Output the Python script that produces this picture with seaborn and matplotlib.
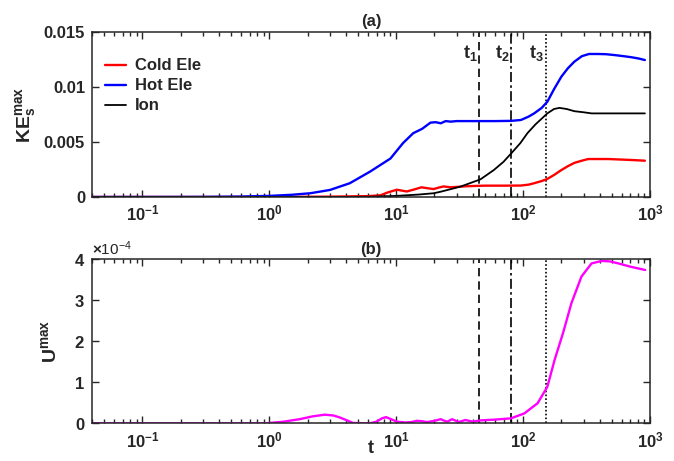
import numpy as np
import pandas as pd
import matplotlib
matplotlib.use("Agg")
import matplotlib.pyplot as plt
import matplotlib.ticker as mticker
import seaborn as sns

# ---- data -------------------------------------------------------------
t_cold = [0.04, 1, 3, 6, 7.5, 8.5, 10.1, 12.1, 14, 15.8, 18, 19.7, 21.5, 23.6, 26.8,
          30.3, 35, 40.9, 50, 70, 96, 110, 122, 140, 155, 175, 200, 225, 253, 290,
          325, 400, 470, 600, 750, 910]
ke_cold = [0, 0, 0.00003, 0.00008, 0.00015, 0.0004, 0.00066, 0.0005, 0.0007, 0.00088,
           0.00078, 0.00072, 0.00085, 0.00096, 0.00088, 0.00092, 0.00097, 0.001, 0.00103,
           0.00103, 0.00104, 0.00112, 0.00125, 0.00145, 0.00164, 0.002, 0.00245, 0.0028,
           0.0031, 0.0033, 0.00345, 0.00345, 0.00345, 0.0034, 0.00335, 0.0033]

t_hot = [0.04, 0.3, 0.6, 1.0, 1.5, 2.1, 3.0, 4.3, 6.2, 9.0, 11.3, 13.6, 16, 18.6, 20.5,
         22.4, 24.5, 26.8, 30, 40, 60, 80, 96, 110, 122, 140, 155, 175, 200, 225, 253,
         290, 330, 390, 450, 527, 620, 718, 820, 910]
ke_hot = [0, 0.00001, 0.00004, 0.0001, 0.0002, 0.00034, 0.00064, 0.00125, 0.0023, 0.0035,
          0.0049, 0.0058, 0.0062, 0.00676, 0.0068, 0.0067, 0.0069, 0.00685, 0.0069, 0.0069,
          0.0069, 0.00692, 0.0070, 0.0073, 0.0076, 0.0081, 0.00866, 0.0098, 0.01094, 0.0117,
          0.0123, 0.0128, 0.0130, 0.0130, 0.01298, 0.0129, 0.0128, 0.0127, 0.01258, 0.01245]

t_ion = [0.04, 1, 3, 6, 10, 15, 19.7, 22.4, 32, 46, 58.7, 70, 81, 95, 108, 125, 155, 175,
         193, 220, 253, 300, 346, 450, 600, 910]
ke_ion = [0, 0, 0, 0.00002, 0.0001, 0.00022, 0.00034, 0.00048, 0.00094, 0.0016, 0.00245,
          0.0032, 0.0040, 0.0049, 0.0058, 0.0066, 0.0076, 0.0080, 0.0081, 0.0080, 0.0078,
          0.0077, 0.0076, 0.0076, 0.0076, 0.0076]

t_u = [0.04, 0.5, 0.94, 1.3, 1.73, 2.2, 2.73, 3.2, 3.6, 4.1, 4.55, 5.5, 6.3, 7.0, 7.7, 8.3,
       9.1, 10.1, 11.8, 13.2, 14.5, 16, 17.5, 20, 22.4, 24, 25.2, 27.6, 31, 35, 40, 46, 60,
       80, 102, 130, 155, 177, 206, 240, 288, 346, 415, 480, 563, 700, 915]
u_max = [0, 0, 0, 0.04e-4, 0.10e-4, 0.17e-4, 0.21e-4, 0.19e-4, 0.14e-4, 0.07e-4, 0.01e-4,
         0, 0.005e-4, 0.04e-4, 0.12e-4, 0.15e-4, 0.10e-4, 0.04e-4, 0.02e-4, 0.03e-4,
         0.06e-4, 0.05e-4, 0.03e-4, 0.06e-4, 0.10e-4, 0.06e-4, 0.04e-4, 0.10e-4, 0.03e-4,
         0.08e-4, 0.04e-4, 0.07e-4, 0.09e-4, 0.12e-4, 0.24e-4, 0.49e-4, 0.89e-4, 1.55e-4,
         2.20e-4, 2.93e-4, 3.58e-4, 3.90e-4, 3.96e-4, 3.95e-4, 3.90e-4, 3.82e-4, 3.74e-4]

marker_times = [45, 80, 150]
marker_labels = ["$t_1$", "$t_2$", "$t_3$"]
marker_styles = [(0, (5, 3)), (0, (6, 2, 1.5, 2)), (0, (1, 1.3))]

# ---- style ------------------------------------------------------------
sns.set_style("ticks")
plt.rcParams["font.family"] = ["Liberation Sans", "DejaVu Sans"]
plt.rcParams["font.weight"] = "bold"
plt.rcParams["axes.labelweight"] = "bold"
plt.rcParams["axes.titleweight"] = "bold"
plt.rcParams["mathtext.fontset"] = "custom"
plt.rcParams["mathtext.rm"] = "Liberation Sans:bold"
plt.rcParams["mathtext.it"] = "Liberation Sans:bold"
plt.rcParams["mathtext.bf"] = "Liberation Sans:bold"
plt.rcParams["mathtext.default"] = "rm"

fig = plt.figure(figsize=(6.74, 4.61), dpi=100)
ax1 = fig.add_axes([0.1365, 0.5727, 0.828, 0.3579])
ax2 = fig.add_axes([0.1365, 0.0818, 0.828, 0.3557])

cold = pd.DataFrame({"t": t_cold, "v": ke_cold})
hot = pd.DataFrame({"t": t_hot, "v": ke_hot})
ion = pd.DataFrame({"t": t_ion, "v": ke_ion})
pot = pd.DataFrame({"t": t_u, "v": u_max})

sns.lineplot(data=cold, x="t", y="v", ax=ax1, color="#ff0000", lw=1.7,
             label="Cold Ele", estimator=None, sort=False)
sns.lineplot(data=hot, x="t", y="v", ax=ax1, color="#0000ff", lw=1.7,
             label="Hot Ele", estimator=None, sort=False)
sns.lineplot(data=ion, x="t", y="v", ax=ax1, color="black", lw=1.3,
             label="Ion", estimator=None, sort=False)
sns.lineplot(data=pot, x="t", y="v", ax=ax2, color="#ff00ff", lw=1.7,
             estimator=None, sort=False)

for ax in (ax1, ax2):
    ax.set_xscale("log")
    ax.set_xlim(0.04, 1000)
    for tm, ls in zip(marker_times, marker_styles):
        ax.axvline(tm, color="black", lw=1.2, ls=ls, zorder=1)
    ax.xaxis.set_major_locator(mticker.FixedLocator([0.1, 1, 10, 100, 1000]))
    ax.xaxis.set_major_formatter(mticker.FixedFormatter(
        ["$10^{-1}$", "$10^{0}$", "$10^{1}$", "$10^{2}$", "$10^{3}$"]))
    ax.xaxis.set_minor_locator(mticker.LogLocator(base=10, subs=np.arange(2, 10)))
    ax.xaxis.set_minor_formatter(mticker.NullFormatter())
    ax.tick_params(which="both", direction="in", top=True, right=True,
                   labelsize=12, width=1.0)
    ax.tick_params(which="major", length=5, pad=5)
    ax.tick_params(which="minor", length=3)
    for sp in ax.spines.values():
        sp.set_linewidth(1.1)
    ax.set_facecolor("white")

# top panel
ax1.set_ylim(0, 0.015)
ax1.set_yticks([0, 0.005, 0.01, 0.015])
ax1.yaxis.set_major_formatter(mticker.FuncFormatter(lambda v, p: f"{v:g}"))
ax1.set_xlabel("")
ax1.set_ylabel("$KE_s^{max}$", fontsize=14, labelpad=4)
ax1.set_title("(a)", fontsize=12, pad=4)
for tm, lab in zip(marker_times, marker_labels):
    ax1.text(tm / 1.025, 0.0131, lab, ha="right", va="center", fontsize=13)
leg = ax1.legend(loc="upper left", frameon=False, fontsize=12, handlelength=1.25,
                 labelspacing=0.3, handletextpad=0.55, borderaxespad=0.0,
                 bbox_to_anchor=(0.012, 0.88))

# bottom panel
ax2.set_ylim(0, 4e-4)
ax2.set_yticks([0, 1e-4, 2e-4, 3e-4, 4e-4])
ax2.ticklabel_format(axis="y", style="sci", scilimits=(0, 0), useMathText=True)
ax2.yaxis.get_offset_text().set_fontsize(11)
ax2.yaxis.get_offset_text().set_fontweight("normal")
ax2.set_xlabel("t", fontsize=13)
ax2.xaxis.set_label_coords(0.5, -0.1)
ax2.set_ylabel("$U^{max}$", fontsize=14, labelpad=10)
ax2.set_title("(b)", fontsize=12, pad=4)

fig.savefig("out.png", dpi=100, facecolor="white")
